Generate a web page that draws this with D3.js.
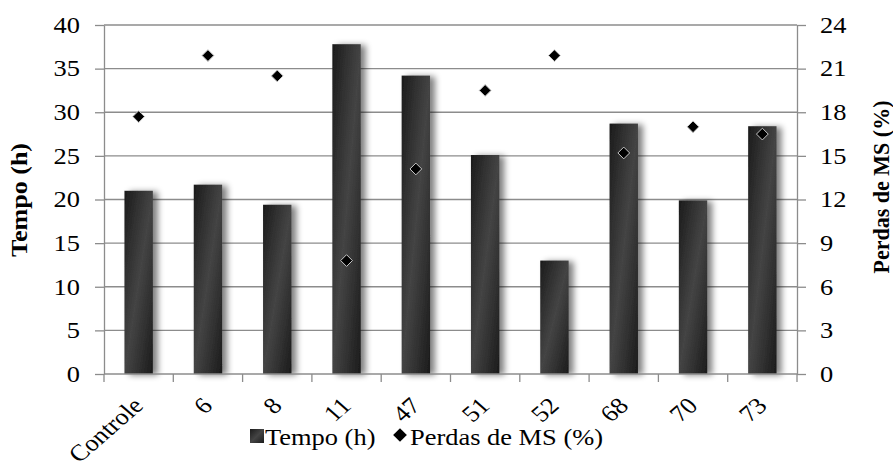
<!DOCTYPE html>
<html>
<head>
<meta charset="utf-8">
<script src="https://cdnjs.cloudflare.com/ajax/libs/d3/7.8.5/d3.min.js"></script>
</head>
<body style="margin:0;background:#fff">
<div id="chart"></div>
<script>
const width = 893;
const height = 472;
const margin = { top: 25, right: 96, bottom: 98, left: 104 };
const serif = "'Liberation Serif', 'Times New Roman', serif";
const fs = 23;     // font size
const sx = 1.15;   // horizontal stretch seen in the picture

// data
const categories = ["Controle", "6", "8", "11", "47", "51", "52", "68", "70", "73"];
const tempo = [21.0, 21.7, 19.4, 37.8, 34.2, 25.1, 13.0, 28.7, 19.9, 28.4];
const perdas = [17.7, 21.9, 20.5, 7.8, 14.1, 19.5, 21.9, 15.2, 17.0, 16.5];
const leftTicks = [0, 5, 10, 15, 20, 25, 30, 35, 40];
const rightTicks = [0, 3, 6, 9, 12, 15, 18, 21, 24];

const svg = d3.select("#chart")
  .append("svg")
  .attr("width", width)
  .attr("height", height)
  .attr("font-family", serif);

const defs = svg.append("defs");
const grad = defs.append("linearGradient")
  .attr("id", "barGrad")
  .attr("x1", "0").attr("y1", "0")
  .attr("x2", "1").attr("y2", "1");
grad.append("stop").attr("offset", "0%").attr("stop-color", "#1b1b1b");
grad.append("stop").attr("offset", "50%").attr("stop-color", "#444");
grad.append("stop").attr("offset", "100%").attr("stop-color", "#1b1b1b");

const shadow = defs.append("filter")
  .attr("id", "shadow")
  .attr("x", "-30%").attr("y", "-10%")
  .attr("width", "190%").attr("height", "120%");
shadow.append("feGaussianBlur").attr("in", "SourceAlpha").attr("stdDeviation", 3);
shadow.append("feOffset").attr("dx", 5).attr("dy", 1).attr("result", "off");
shadow.append("feComponentTransfer").append("feFuncA").attr("type", "linear").attr("slope", 0.5);
const merge = shadow.append("feMerge");
merge.append("feMergeNode");
merge.append("feMergeNode").attr("in", "SourceGraphic");

const x = d3.scaleBand()
  .domain(categories)
  .range([margin.left, width - margin.right])
  .paddingInner(0.59)
  .paddingOuter(0.295);

const yL = d3.scaleLinear().domain([0, 40]).range([height - margin.bottom, margin.top]);
const yR = d3.scaleLinear().domain([0, 24]).range([height - margin.bottom, margin.top]);

const gridColor = "#8c8c8c";

function txt(sel) {
  return sel.style("font-family", serif, "important")
    .style("font-size", fs + "px")
    .attr("fill", "#000");
}

// gridlines
svg.append("g")
  .selectAll("line")
  .data(leftTicks.slice(1))
  .enter()
  .append("line")
  .attr("x1", margin.left)
  .attr("x2", width - margin.right)
  .attr("y1", d => yL(d))
  .attr("y2", d => yL(d))
  .attr("stroke", gridColor)
  .attr("stroke-width", 1.3);

// bars
svg.append("g")
  .selectAll("rect")
  .data(tempo)
  .enter()
  .append("rect")
  .attr("x", (d, i) => x(categories[i]))
  .attr("y", d => yL(d))
  .attr("width", x.bandwidth())
  .attr("height", d => yL(0) - yL(d))
  .attr("fill", "url(#barGrad)")
  .attr("filter", "url(#shadow)");

// axes (lines and ticks from d3, labels drawn below)
const gL = svg.append("g")
  .attr("transform", `translate(${margin.left},0)`)
  .call(d3.axisLeft(yL).tickValues(leftTicks).tickSize(9).tickSizeOuter(0).tickFormat(""));
const gR = svg.append("g")
  .attr("transform", `translate(${width - margin.right},0)`)
  .call(d3.axisRight(yR).tickValues(rightTicks).tickSize(9).tickSizeOuter(0).tickFormat(""));

[gL, gR].forEach(g => {
  g.select(".domain").attr("stroke", gridColor).attr("stroke-width", 1.3);
  g.selectAll(".tick line").attr("stroke", gridColor).attr("stroke-width", 1.3);
  g.selectAll(".tick text").remove();
});

svg.append("g")
  .selectAll("text")
  .data(leftTicks)
  .enter()
  .append("text")
  .attr("transform", d => `translate(${margin.left - 24},${yL(d)}) scale(${sx},1)`)
  .attr("text-anchor", "end")
  .attr("dy", "0.34em")
  .call(txt)
  .text(d => d);

svg.append("g")
  .selectAll("text")
  .data(rightTicks)
  .enter()
  .append("text")
  .attr("transform", d => `translate(${width - margin.right + 23},${yR(d)}) scale(${sx},1)`)
  .attr("text-anchor", "start")
  .attr("dy", "0.34em")
  .call(txt)
  .text(d => d);

// bottom axis with ticks at band boundaries
const step = x.step();
const boundaries = d3.range(categories.length + 1).map(i => margin.left + i * step);
const gB = svg.append("g");
gB.append("line")
  .attr("x1", margin.left)
  .attr("x2", width - margin.right)
  .attr("y1", yL(0))
  .attr("y2", yL(0))
  .attr("stroke", gridColor)
  .attr("stroke-width", 1.3);
gB.selectAll(".btick")
  .data(boundaries)
  .enter()
  .append("line")
  .attr("x1", d => d)
  .attr("x2", d => d)
  .attr("y1", yL(0))
  .attr("y2", yL(0) + 8)
  .attr("stroke", gridColor)
  .attr("stroke-width", 1.3);

gB.selectAll(".xlabel")
  .data(categories)
  .enter()
  .append("text")
  .attr("text-anchor", "end")
  .attr("transform", d => `translate(${x(d) + x.bandwidth() / 2 + 6},${yL(0) + 33}) scale(${sx},1) rotate(-45)`)
  .call(txt)
  .text(d => d);

// diamonds
const diamond = d3.symbol().type(d3.symbolDiamond2).size(88);
svg.append("g")
  .selectAll("path")
  .data(perdas)
  .enter()
  .append("path")
  .attr("d", diamond)
  .attr("transform", (d, i) => `translate(${x(categories[i]) + x.bandwidth() / 2},${yR(d)})`)
  .attr("fill", "#000")
  .attr("stroke", "#c8c8c8")
  .attr("stroke-width", 1);

// axis titles
svg.append("text")
  .attr("transform", `translate(27,200) rotate(-90)`)
  .attr("text-anchor", "middle")
  .attr("textLength", 114)
  .attr("lengthAdjust", "spacingAndGlyphs")
  .call(txt)
  .style("font-weight", "bold")
  .text("Tempo (h)");

svg.append("text")
  .attr("transform", `translate(889,187) rotate(-90)`)
  .attr("text-anchor", "middle")
  .attr("textLength", 173)
  .attr("lengthAdjust", "spacingAndGlyphs")
  .call(txt)
  .style("font-weight", "bold")
  .text("Perdas de MS (%)");

// legend
const legend = svg.append("g").attr("transform", "translate(250,445)");
legend.append("rect")
  .attr("x", 0).attr("y", -16)
  .attr("width", 14).attr("height", 14)
  .attr("fill", "url(#barGrad)");
legend.append("text")
  .attr("transform", `translate(15,0) scale(${sx},1)`)
  .call(txt)
  .text("Tempo (h)");
legend.append("path")
  .attr("d", d3.symbol().type(d3.symbolDiamond2).size(120))
  .attr("transform", "translate(150,-10)")
  .attr("fill", "#000");
legend.append("text")
  .attr("transform", `translate(160,0) scale(${sx},1)`)
  .call(txt)
  .text("Perdas de MS (%)");
</script>
</body>
</html>
